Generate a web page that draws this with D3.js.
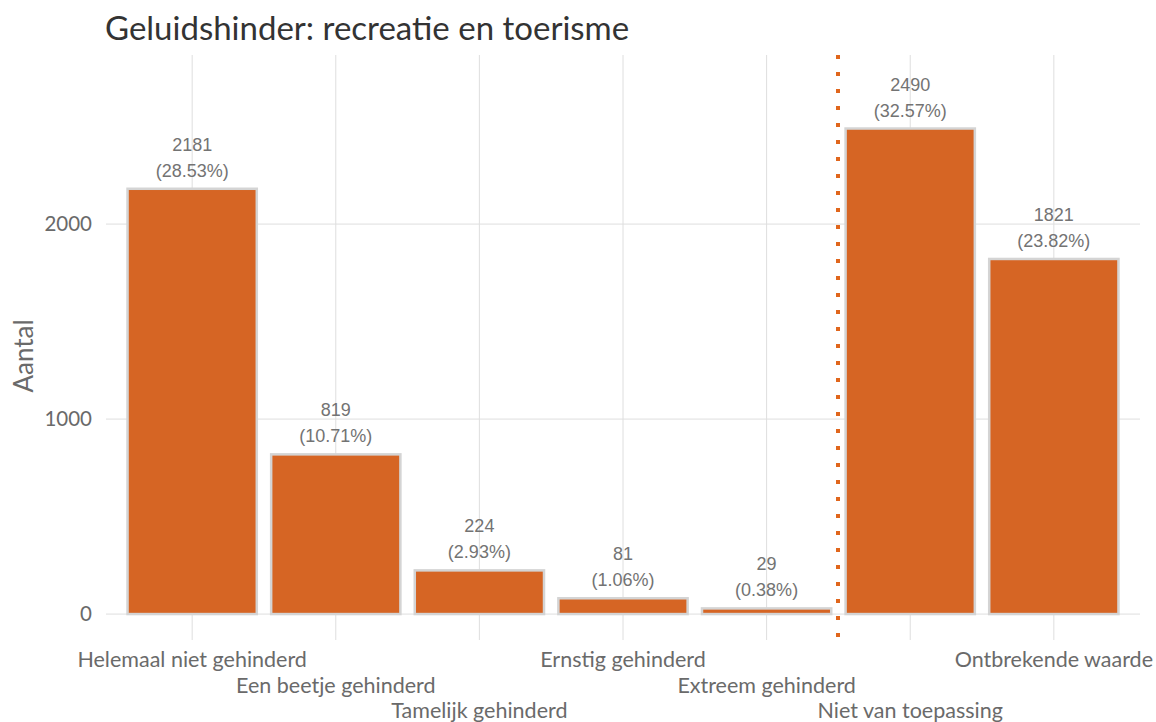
<!DOCTYPE html>
<html><head><meta charset="utf-8">
<script src="https://cdn.jsdelivr.net/npm/d3@7"></script>
<style>body{margin:0;background:#fff}</style>
</head><body>
<svg id="c" width="1156" height="722"></svg>
<script>
const categories = ["Helemaal niet gehinderd","Een beetje gehinderd","Tamelijk gehinderd","Ernstig gehinderd","Extreem gehinderd","Niet van toepassing","Ontbrekende waarde"];
const counts = [2181, 819, 224, 81, 29, 2490, 1821];
const percents = ["28.53%","10.71%","2.93%","1.06%","0.38%","32.57%","23.82%"];
const yTicks = [0, 1000, 2000];
const title = "Geluidshinder: recreatie en toerisme";
const yTitle = "Aantal";

(function(){
const svg = d3.select("#c");
const pL = 106, pR = 1140, pT = 55, pB = 640;
const x = d3.scaleBand().domain(categories).range([pL, pR]).paddingInner(0.1).paddingOuter(0.15);
const y = d3.scaleLinear().domain([-133, 2867]).range([pB, pT]);
const grid = "#dedede";

// gridlines
svg.append("g").selectAll("line").data(yTicks).join("line")
  .attr("x1", pL).attr("x2", pR).attr("y1", d => y(d)).attr("y2", d => y(d))
  .attr("stroke", grid).attr("stroke-width", 1);
svg.append("g").selectAll("line").data(categories).join("line")
  .attr("x1", d => x(d) + x.bandwidth()/2).attr("x2", d => x(d) + x.bandwidth()/2)
  .attr("y1", pT).attr("y2", pB)
  .attr("stroke", grid).attr("stroke-width", 1);

// bars
svg.append("g").selectAll("rect").data(categories).join("rect")
  .attr("x", d => x(d)).attr("width", x.bandwidth())
  .attr("y", (d,i) => y(counts[i])).attr("height", (d,i) => y(0) - y(counts[i]))
  .attr("fill", "#d66524").attr("stroke", "#d4d4d4").attr("stroke-width", 2.5);

// dotted separator between categories 5 and 6
const sepX = Math.round((x(categories[4]) + x(categories[5])) / 2 + x.bandwidth()/2);
svg.append("line").attr("x1", sepX).attr("x2", sepX).attr("y1", pT).attr("y2", pB)
  .attr("stroke", "#e0661c").attr("stroke-width", 4).attr("stroke-dasharray", "4,13");

// value labels
const lab = svg.append("g").attr("font-family", "'Liberation Sans', Arial, sans-serif")
  .attr("font-size", 18).attr("fill", "#737373").attr("text-anchor", "middle");
categories.forEach((c,i) => {
  const cx = x(c) + x.bandwidth()/2, ty = y(counts[i]);
  lab.append("text").attr("x", cx).attr("y", ty - 38).text(counts[i]);
  lab.append("text").attr("x", cx).attr("y", ty - 12).text("(" + percents[i] + ")");
});

// y tick labels
svg.append("g").selectAll("text").data(yTicks).join("text")
  .attr("x", 92).attr("y", d => y(d) + 7).attr("text-anchor", "end")
  .attr("font-family", "Lato, sans-serif").attr("font-size", 20.5).attr("fill", "#6a6a6a")
  .text(d => d);

// x labels staggered
svg.append("g").selectAll("text").data(categories).join("text")
  .attr("x", d => x(d) + x.bandwidth()/2).attr("y", (d,i) => 667 + (i % 3) * 25.5)
  .attr("text-anchor", "middle")
  .attr("font-family", "Lato, sans-serif").attr("font-size", 21.5).attr("fill", "#6a6a6a")
  .text(d => d);

// y title
svg.append("text").attr("transform", "translate(33,356) rotate(-90)").attr("text-anchor", "middle")
  .attr("font-family", "Lato, sans-serif").attr("font-size", 26).attr("fill", "#6a6a6a").text(yTitle);

// title
svg.append("text").attr("x", 105).attr("y", 40)
  .attr("font-family", "Lato, sans-serif").attr("font-size", 33).attr("fill", "#333").text(title);
})();
</script>
</body></html>
